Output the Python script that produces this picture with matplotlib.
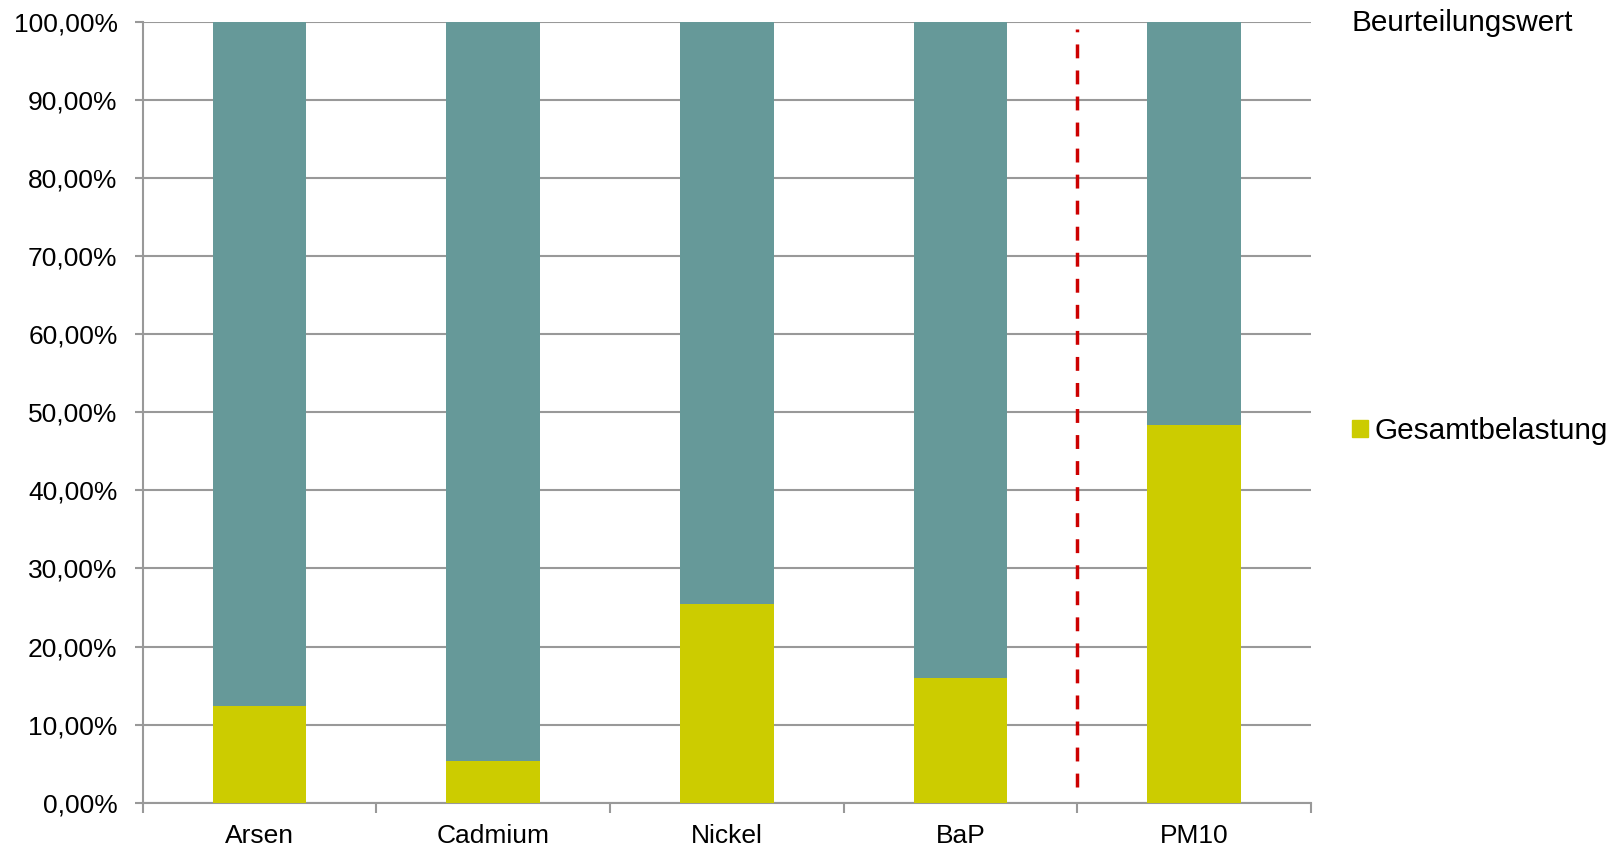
import numpy as np
import matplotlib.pyplot as plt
from matplotlib.patches import Patch
from matplotlib.ticker import FuncFormatter

plt.rcParams['font.family'] = ['Liberation Sans', 'DejaVu Sans']

categories = ["Arsen", "Cadmium", "Nickel", "BaP", "PM10"]
gesamtbelastung = [12.4, 5.4, 25.5, 16.0, 48.4]
beurteilungswert = [100.0, 100.0, 100.0, 100.0, 100.0]

teal = '#669999'
yellow = '#cccc00'
grid_col = '#999999'

fig = plt.figure(figsize=(16.2, 8.47), dpi=100)
ax = fig.add_axes([0.088, 0.0522, 0.7213, 0.9222])

x = np.arange(len(categories))
rest = np.array(beurteilungswert) - np.array(gesamtbelastung)
ax.bar(x, gesamtbelastung, width=0.4, color=yellow, zorder=3)
ax.bar(x, rest, bottom=gesamtbelastung, width=0.4, color=teal, zorder=3)

# separator between the metals/BaP and PM10
ax.vlines(3.5, 2, 99, colors='#cc0000', linestyles=(0, (4, 3.5)), linewidth=2.5, zorder=4)

ax.set_xlim(-0.5, len(categories) - 0.5)
ax.set_ylim(0, 100)
ax.set_yticks(np.arange(0, 101, 10))
ax.yaxis.set_major_formatter(FuncFormatter(lambda v, p: f"{v:.2f}".replace('.', ',') + "%"))
ax.grid(axis='y', color=grid_col, linewidth=1.5, zorder=0)

ax.set_xticks(x)
ax.set_xticklabels(categories)
ax.set_xticks(np.arange(-0.5, len(categories)), minor=True)
ax.tick_params(axis='x', which='major', length=0, pad=15, labelsize=19)
ax.tick_params(axis='x', which='minor', length=7, width=1.5, color=grid_col)
ax.tick_params(axis='y', length=6, width=1.5, color=grid_col, pad=12, labelsize=19)

for s in ['top', 'right']:
    ax.spines[s].set_visible(False)
for s in ['left', 'bottom']:
    ax.spines[s].set_color(grid_col)
    ax.spines[s].set_linewidth(1.5)

fig.text(1352 / 1620, 1 - 23 / 847, "Beurteilungswert", fontsize=21.4, va='center', ha='left')
fig.legend(handles=[Patch(color=yellow, label="Gesamtbelastung")],
           loc='center left', bbox_to_anchor=(1337 / 1620, 1 - 431 / 847),
           frameon=False, fontsize=21.4, handlelength=0.55, handleheight=0.55,
           handletextpad=0.2, borderpad=0)

fig.savefig("out.png", dpi=100)
